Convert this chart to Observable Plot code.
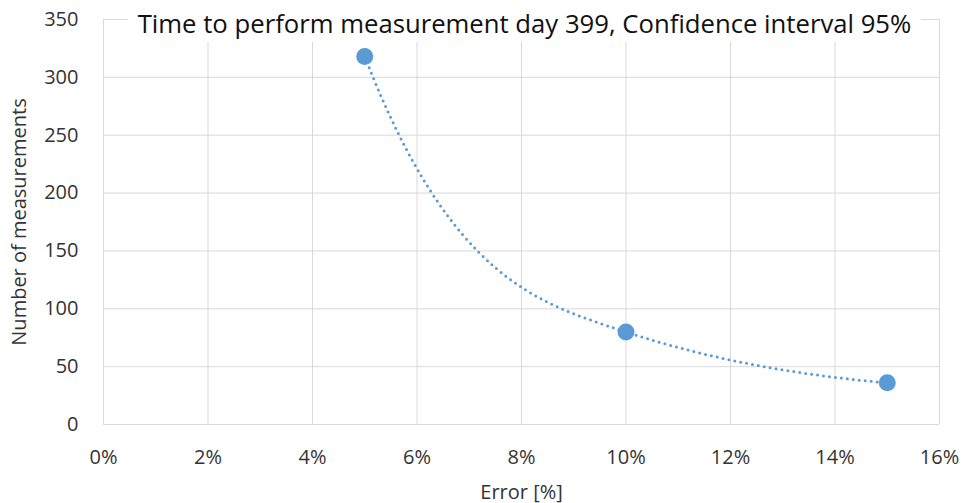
<!DOCTYPE html>
<html>
<head>
<meta charset="utf-8">
<script src="https://cdn.jsdelivr.net/npm/d3@7"></script>
<script src="https://cdn.jsdelivr.net/npm/@observablehq/plot@0.6"></script>
<style>
  html, body { margin: 0; padding: 0; background: #fff; }
  #wrap { position: relative; width: 967px; height: 503px; }
  #title {
    position: absolute; left: 128px; width: 793px; top: 5px; height: 37px;
    line-height: 37px; background: #fff; text-align: center;
    font-family: "Open Sans", sans-serif; font-size: 25.7px; color: #111;
    white-space: nowrap;
  }
</style>
</head>
<body>
<div id="wrap"><div id="title">Time to perform measurement day 399, Confidence interval 95%</div></div>
<script>
// Data
const errors = [0.05, 0.10, 0.15];
const measurements = [318, 80, 36];
const xTicks = [0, 0.02, 0.04, 0.06, 0.08, 0.10, 0.12, 0.14, 0.16];
const yTicks = [0, 50, 100, 150, 200, 250, 300, 350];

const data = errors.map((e, i) => ({error: e, n: measurements[i]}));

// Smooth curve (cubic Hermite in x, harmonic-mean interior tangents)
function smoothCurve(context) {
  let xs, ys;
  return {
    areaStart() {}, areaEnd() {},
    lineStart() { xs = []; ys = []; },
    point(x, y) { xs.push(+x); ys.push(+y); },
    lineEnd() {
      const n = xs.length;
      if (!n) return;
      context.moveTo(xs[0], ys[0]);
      if (n === 1) return;
      if (n === 2) { context.lineTo(xs[1], ys[1]); return; }
      const s = [];
      for (let i = 0; i < n - 1; i++) s[i] = (ys[i + 1] - ys[i]) / (xs[i + 1] - xs[i]);
      const m = new Array(n);
      for (let i = 1; i < n - 1; i++) {
        m[i] = s[i - 1] * s[i] > 0 ? 2 * s[i - 1] * s[i] / (s[i - 1] + s[i]) : 0;
      }
      const end = (sk, mk) => {
        const par = 2 * sk - mk;
        const geo = mk ? sk * sk / mk : par;
        return (par + geo) / 2;
      };
      m[0] = end(s[0], m[1]);
      m[n - 1] = end(s[n - 2], m[n - 2]);
      for (let i = 0; i < n - 1; i++) {
        const h = xs[i + 1] - xs[i];
        context.bezierCurveTo(
          xs[i] + h / 3, ys[i] + m[i] * h / 3,
          xs[i + 1] - h / 3, ys[i + 1] - m[i + 1] * h / 3,
          xs[i + 1], ys[i + 1]);
      }
    }
  };
}

const blue = "#5B9BD5";
const grid = "#d9d9d9";

const chart = Plot.plot({
  width: 967,
  height: 503,
  marginLeft: 103,
  marginRight: 28,
  marginTop: 19,
  marginBottom: 79,
  style: {fontFamily: "Open Sans, sans-serif", fontSize: "20px", color: "#333", background: "#fff"},
  x: {domain: [0, 0.16]},
  y: {domain: [0, 350]},
  marks: [
    Plot.gridX(xTicks, {stroke: grid, strokeOpacity: 1, strokeWidth: 1}),
    Plot.gridY(yTicks, {stroke: grid, strokeOpacity: 1, strokeWidth: 1}),
    Plot.axisX(xTicks, {
      tickSize: 0, tickPadding: 25,
      tickFormat: d => Math.round(d * 100) + "%",
      label: "Error [%]", labelAnchor: "center", labelArrow: "none", labelOffset: 74,
      fontSize: 20, fill: "#333"
    }),
    Plot.axisY(yTicks, {
      tickSize: 0, tickPadding: 25,
      label: "Number of measurements", labelAnchor: "center", labelArrow: "none", labelOffset: 92,
      fontSize: 20, fill: "#333"
    }),
    Plot.line(data, {
      x: "error", y: "n", curve: smoothCurve,
      stroke: blue, strokeWidth: 3, strokeDasharray: "0 6", strokeLinecap: "round"
    }),
    Plot.dot(data, {x: "error", y: "n", r: 8.5, fill: blue, stroke: "none"})
  ]
});

document.getElementById("wrap").prepend(chart);
</script>
</body>
</html>
